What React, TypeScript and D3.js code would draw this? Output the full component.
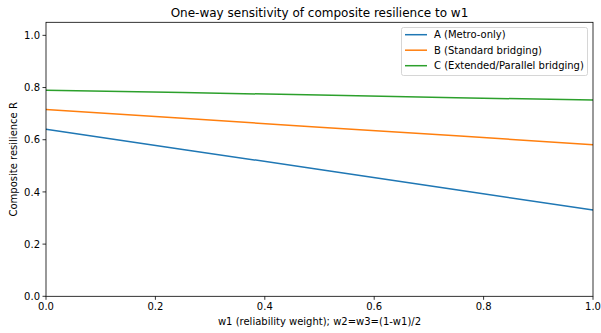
import React from "react";
import * as d3 from "d3";

const W = 601;
const H = 333;

const w1Values = [0, 0.25, 0.5, 0.75, 1];
const seriesA = [0.64, 0.563, 0.486, 0.408, 0.331];
const seriesB = [0.716, 0.682, 0.648, 0.615, 0.581];
const seriesC = [0.79, 0.781, 0.771, 0.761, 0.752];
const seriesNames = ["A (Metro-only)", "B (Standard bridging)", "C (Extended/Parallel bridging)"];
const seriesColors = ["#1f77b4", "#ff7f0e", "#2ca02c"];
const xTicks = [0, 0.2, 0.4, 0.6, 0.8, 1.0];
const yTicks = [0, 0.2, 0.4, 0.6, 0.8, 1.0];

const title = "One-way sensitivity of composite resilience to w1";
const xLabel = "w1 (reliability weight); w2=w3=(1-w1)/2";
const yLabel = "Composite resilience R";

export default function App() {
  const left = 46, right = 593, top = 22.3, bottom = 296.3;
  const x = d3.scaleLinear().domain([0, 1]).range([left, right]);
  const y = d3.scaleLinear().domain([0, 1.05]).range([bottom, top]);
  const line = d3
    .line<number>()
    .x((_, i) => x(w1Values[i]))
    .y((d) => y(d));
  const allSeries = [seriesA, seriesB, seriesC];
  const font = "DejaVu Sans, sans-serif";
  const legX = 401.5, legY = 27.5, legW = 186, legH = 48;

  return (
    <svg
      width={W}
      height={H}
      style={{ position: "absolute", left: 0, top: 0, background: "#fff" }}
      fontFamily={font}
    >
      <rect x={0} y={0} width={W} height={H} fill="#fff" />
      <text x={(left + right) / 2} y={16.5} textAnchor="middle" fontSize={12} fill="#000">
        {title}
      </text>
      {allSeries.map((s, i) => (
        <path key={i} d={line(s) ?? ""} fill="none" stroke={seriesColors[i]} strokeWidth={1.5} />
      ))}
      <rect x={left} y={top} width={right - left} height={bottom - top} fill="none" stroke="#000" strokeWidth={0.8} />
      {xTicks.map((t) => (
        <g key={"x" + t}>
          <line x1={x(t)} x2={x(t)} y1={bottom} y2={bottom + 3.5} stroke="#000" strokeWidth={0.8} />
          <text x={x(t)} y={bottom + 14} textAnchor="middle" fontSize={10} fill="#000">
            {t.toFixed(1)}
          </text>
        </g>
      ))}
      {yTicks.map((t) => (
        <g key={"y" + t}>
          <line x1={left - 3.5} x2={left} y1={y(t)} y2={y(t)} stroke="#000" strokeWidth={0.8} />
          <text x={left - 6} y={y(t) + 3.6} textAnchor="end" fontSize={10} fill="#000">
            {t.toFixed(1)}
          </text>
        </g>
      ))}
      <text x={(left + right) / 2} y={325} textAnchor="middle" fontSize={10} fill="#000">
        {xLabel}
      </text>
      <text
        transform={`translate(16.5, ${(top + bottom) / 2}) rotate(-90)`}
        textAnchor="middle"
        fontSize={10}
        fill="#000"
      >
        {yLabel}
      </text>
      <rect x={legX} y={legY} width={legW} height={legH} rx={2} fill="#fff" fillOpacity={0.8} stroke="#ccc" strokeWidth={0.8} />
      {seriesNames.map((n, i) => (
        <g key={n}>
          <line x1={405} x2={427} y1={34.7 + i * 15.5} y2={34.7 + i * 15.5} stroke={seriesColors[i]} strokeWidth={1.5} />
          <text x={434} y={34.7 + i * 15.5 + 3.6} fontSize={10} fill="#000">
            {n}
          </text>
        </g>
      ))}
    </svg>
  );
}
